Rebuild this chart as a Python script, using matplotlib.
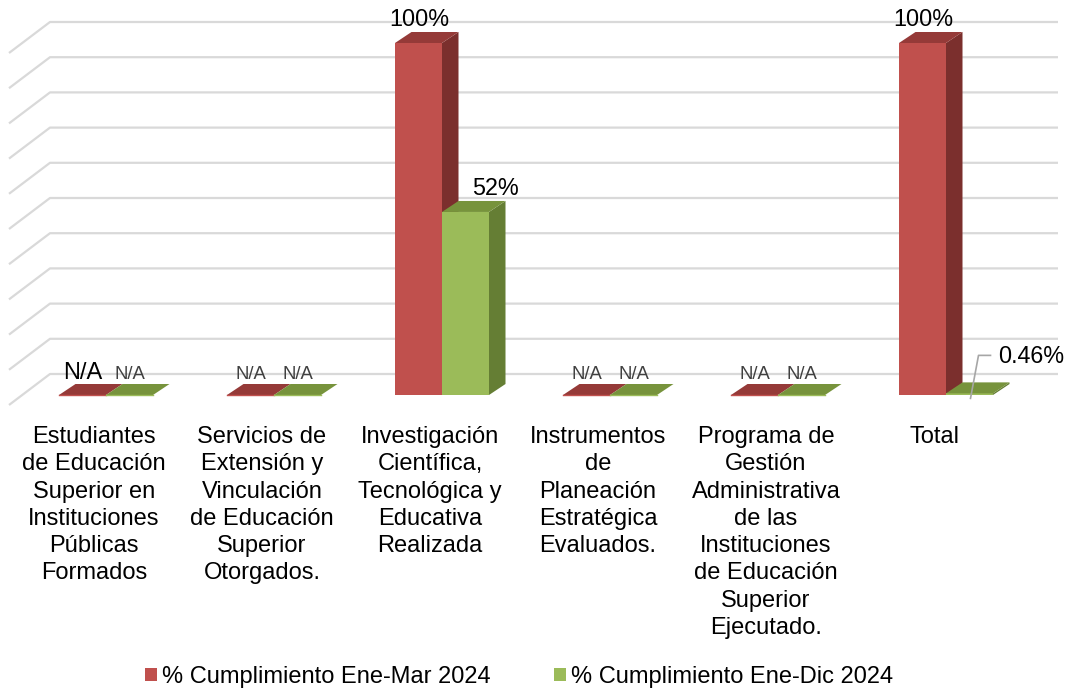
import matplotlib
matplotlib.use("Agg")
import matplotlib.pyplot as plt
from matplotlib.patches import Polygon, Rectangle, Patch
from matplotlib.transforms import offset_copy

plt.rcParams['font.family'] = ['Liberation Sans', 'DejaVu Sans']

categories = [
    "Estudiantes\nde Educación\nSuperior en\nInstituciones\nPúblicas\nFormados",
    "Servicios de\nExtensión y\nVinculación\nde Educación\nSuperior\nOtorgados.",
    "Investigación\nCientífica,\nTecnológica y\nEducativa\nRealizada",
    "Instrumentos\nde\nPlaneación\nEstratégica\nEvaluados.",
    "Programa de\nGestión\nAdministrativa\nde las\nInstituciones\nde Educación\nSuperior\nEjecutado.",
    "Total",
]
series_names = ["% Cumplimiento Ene-Mar 2024", "% Cumplimiento Ene-Dic 2024"]
ene_mar = [None, None, 1.00, None, None, 1.00]
ene_dic = [None, None, 0.52, None, None, 0.0046]
ene_mar_labels = ["N/A", "N/A", "100%", "N/A", "N/A", "100%"]
ene_dic_labels = ["N/A", "N/A", "52%", "N/A", "N/A", "0.46%"]
yticks = [i / 10 for i in range(11)]

front_cols = ["#C0504D", "#9BBB59"]
top_cols = ["#953A38", "#77933C"]
side_cols = ["#7B2F2D", "#657E34"]

W, H = 1068, 690
fig = plt.figure(figsize=(W / 100, H / 100), dpi=100)
ax = fig.add_axes([22 / W, (H - 395) / H, 1008 / W, 352 / H])
ax.set_xlim(-0.5, 5.5)
ax.set_ylim(0, 1)
ax.axis("off")

px_x = 1008 / 6.0   # pixels per category unit
px_y = 352 / 1.0    # pixels per value unit


def off(x, y, dxp, dyp):
    """data point shifted by pixel offsets (dyp positive = up)"""
    return (x + dxp / px_x, y + dyp / px_y)


# depth offsets in pixels
BACK = (28, 21)
FRONT = (-13, -10)
DEPTH = (16.5, 11)

# back wall and side wall gridlines
for v in yticks:
    p0 = off(-0.5, v, *FRONT)
    p1 = off(-0.5, v, *BACK)
    p2 = off(5.5, v, *BACK)
    ax.plot([p0[0], p1[0], p2[0]], [p0[1], p1[1], p2[1]], color="#D9D9D9",
            lw=1.6, clip_on=False, zorder=1, solid_capstyle="butt")

bw = 47 / px_x
series = [ene_mar, ene_dic]
labels = [ene_mar_labels, ene_dic_labels]

for i in range(len(categories)):
    for s in range(2):
        val = series[s][i]
        v = 0.0 if val is None else val
        x0 = i - bw + s * bw
        z = 3 + s
        if v > 0.003:
            ax.add_patch(Rectangle((x0, 0), bw, v, facecolor=front_cols[s],
                                   edgecolor="none", clip_on=False, zorder=z))
            side = [(x0 + bw, 0), (x0 + bw, v), off(x0 + bw, v, *DEPTH), off(x0 + bw, 0, *DEPTH)]
            ax.add_patch(Polygon(side, closed=True, facecolor=side_cols[s],
                                 edgecolor="none", clip_on=False, zorder=z))
        top = [(x0, v), (x0 + bw, v), off(x0 + bw, v, *DEPTH), off(x0, v, *DEPTH)]
        ax.add_patch(Polygon(top, closed=True, facecolor=top_cols[s],
                             edgecolor="none", clip_on=False, zorder=z))
        if v <= 0.003:
            ax.plot([x0, x0 + bw], [v, v], color=front_cols[s], lw=1.0,
                    clip_on=False, zorder=z)

# data labels
for i in range(len(categories)):
    for s in range(2):
        val = series[s][i]
        lab = labels[s][i]
        v = 0.0 if val is None else val
        xc = i - bw + s * bw + bw / 2
        if lab == "0.46%":
            a = off(xc, v, 1, -5)
            b = off(xc, v, 9, 38)
            c = off(xc, v, 21, 38)
            ax.plot([a[0], b[0], c[0]], [a[1], b[1], c[1]], color="#A6A6A6",
                    lw=1.2, clip_on=False, zorder=6)
            ax.text(*off(xc, v, 29, 30), lab, fontsize=16.8, color="#000000",
                    ha="left", va="baseline", zorder=7)
            continue
        if val is None:
            if i == 0 and s == 0:
                fs, col = 17, "#000000"
            else:
                fs, col = 13.3, "#404040"
            ax.text(*off(xc, v, 0, 16), lab, fontsize=fs, color=col,
                    ha="center", va="baseline", zorder=7)
        else:
            dx = 30 if lab == "52%" else 1
            ax.text(*off(xc, v, dx, 16.5), lab, fontsize=16.8, color="#000000",
                    ha="center", va="baseline", zorder=7)

# category labels
for i, cat in enumerate(categories):
    tr = offset_copy(ax.transData, fig=fig, x=-12, y=-31, units="dots")
    ax.text(i, 0, cat, transform=tr, ha="center", va="top", fontsize=17,
            color="#000000", linespacing=1.31, multialignment="center")

handles = [Patch(facecolor=front_cols[0], edgecolor="none"),
           Patch(facecolor=front_cols[1], edgecolor="none")]
fig.legend(handles, series_names, loc="center", bbox_to_anchor=(519 / W, 1 - 677 / H),
           ncol=2, frameon=False, fontsize=17, handlelength=0.5, handleheight=0.5,
           handletextpad=0.2, columnspacing=2.7, borderpad=0, borderaxespad=0)

fig.savefig("out.png", dpi=100)
